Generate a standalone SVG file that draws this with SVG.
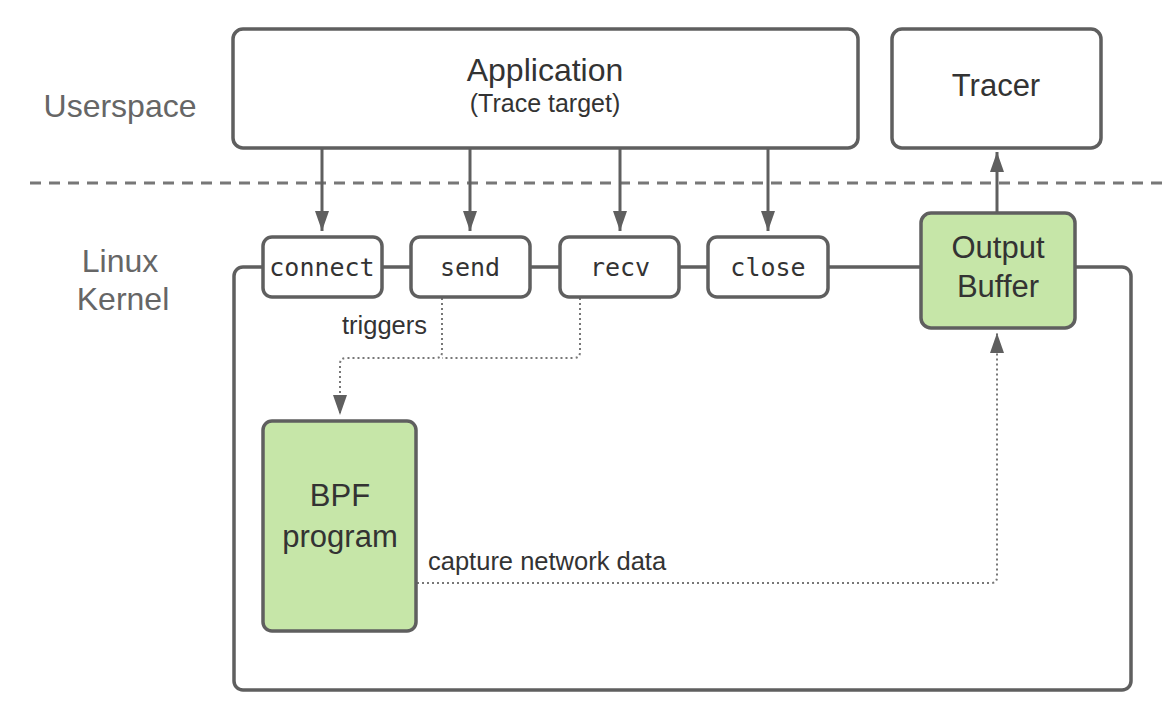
<svg xmlns="http://www.w3.org/2000/svg" width="1176" height="720" viewBox="0 0 1176 720">
<defs>
<marker id="ah2" viewBox="0 0 20 14" refX="20" refY="7" markerWidth="20" markerHeight="14" markerUnits="userSpaceOnUse" orient="auto">
<path d="M0,0 L20,7 L0,14 Z" fill="#5f5f5f"/>
</marker>
</defs>
<style>
.box{fill:#ffffff;stroke:#5f5f5f;stroke-width:3.5}
.green{fill:#c6e6a8;stroke:#5f5f5f;stroke-width:3.5}
.line{fill:none;stroke:#5f5f5f;stroke-width:3}
.dot{fill:none;stroke:#777;stroke-width:2;stroke-dasharray:2,3}
.t{font-family:"Liberation Sans",Arial,sans-serif;fill:#333;text-anchor:middle}
.side{font-family:"Liberation Sans",Arial,sans-serif;fill:#666;text-anchor:middle;font-size:32px}
.mono{font-family:"DejaVu Sans Mono","Liberation Mono",monospace;fill:#333;text-anchor:middle;font-size:25px}
.lbl{font-family:"Liberation Sans",Arial,sans-serif;fill:#333;font-size:25.5px}
</style>
<rect width="1176" height="720" fill="#ffffff"/>
<g id="labels">
<text class="side" x="120" y="117">Userspace</text>
<text class="side" x="120" y="272">Linux</text>
<text class="side" x="123" y="310">Kernel</text>
</g>
<line id="divider" x1="30" y1="183" x2="1162" y2="183" stroke="#777" stroke-width="3" stroke-dasharray="11,8"/>
<g id="kernel">
<rect x="234" y="267" width="897" height="423" rx="9" fill="none" stroke="#5f5f5f" stroke-width="3.5"/>
</g>
<g id="connectors">
<path class="line" d="M322,148 V231" marker-end="url(#ah2)"/>
<path class="line" d="M470,148 V231" marker-end="url(#ah2)"/>
<path class="line" d="M620,148 V231" marker-end="url(#ah2)"/>
<path class="line" d="M768,148 V231" marker-end="url(#ah2)"/>
<path class="line" d="M997,213 V152" marker-end="url(#ah2)"/>
<path class="dot" d="M442,298 V352 Q442,358 436,358 H346 Q340,358 340,364 V415" marker-end="url(#ah2)"/>
<path class="dot" d="M580,298 V352 Q580,358 574,358 H442"/>
<path class="dot" d="M417,583 H991 Q997,583 997,577 V333" marker-end="url(#ah2)"/>
<text class="lbl" x="342" y="334">triggers</text>
<text class="lbl" x="428" y="570">capture network data</text>
</g>
<g id="application">
<rect class="box" x="233" y="29" width="625" height="119" rx="10"/>
<text class="t" x="545" y="81" font-size="32">Application</text>
<text class="t" x="545" y="112" font-size="25">(Trace target)</text>
</g>
<g id="tracer">
<rect class="box" x="892" y="29" width="209" height="119" rx="10"/>
<text class="t" x="996" y="96" font-size="31">Tracer</text>
</g>
<g id="connect">
<rect class="box" x="263" y="237" width="119" height="60" rx="9"/>
<text class="mono" x="322" y="276">connect</text>
</g>
<g id="send">
<rect class="box" x="411" y="237" width="119" height="60" rx="9"/>
<text class="mono" x="470" y="276">send</text>
</g>
<g id="recv">
<rect class="box" x="560" y="237" width="119" height="60" rx="9"/>
<text class="mono" x="620" y="276">recv</text>
</g>
<g id="close">
<rect class="box" x="708" y="237" width="120" height="60" rx="9"/>
<text class="mono" x="768" y="276">close</text>
</g>
<g id="output-buffer">
<rect class="green" x="921" y="213" width="154" height="115" rx="10"/>
<text class="t" x="998" y="258" font-size="31">Output</text>
<text class="t" x="998" y="297" font-size="31">Buffer</text>
</g>
<g id="bpf-program">
<rect class="green" x="263" y="421" width="153" height="210" rx="9"/>
<text class="t" x="340" y="506" font-size="31">BPF</text>
<text class="t" x="340" y="547" font-size="31">program</text>
</g>
</svg>
